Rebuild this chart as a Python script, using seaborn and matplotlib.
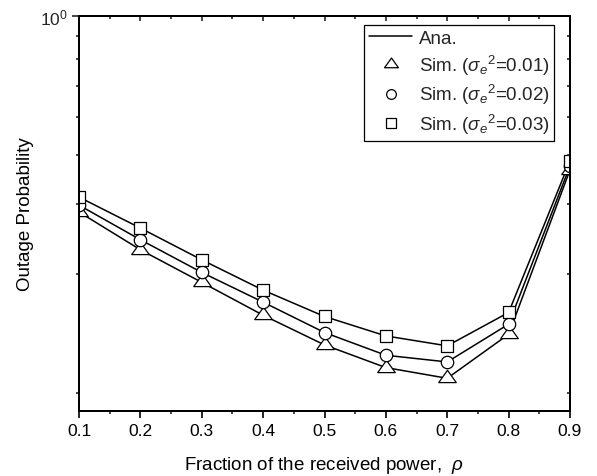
import matplotlib
matplotlib.use("Agg")
import numpy as np
import pandas as pd
import seaborn as sns
import matplotlib.pyplot as plt
from matplotlib.lines import Line2D
from matplotlib.path import Path
from matplotlib.ticker import FixedLocator, NullFormatter, MultipleLocator

# ---------------- data ----------------
rho = [0.1, 0.2, 0.3, 0.4, 0.5, 0.6, 0.7, 0.8, 0.9]
p_var001 = [0.319, 0.256, 0.2117, 0.1748, 0.147, 0.1288, 0.121, 0.1564, 0.4077]
p_var002 = [0.332, 0.2714, 0.2243, 0.1886, 0.158, 0.1384, 0.1331, 0.1659, 0.4173]
p_var003 = [0.348, 0.2905, 0.2414, 0.2023, 0.1735, 0.1549, 0.1462, 0.1776, 0.4297]
series_names = ["0.01", "0.02", "0.03"]
legend_labels = ["Ana.",
                 r"Sim. ($\sigma_e{}^2$=0.01)",
                 r"Sim. ($\sigma_e{}^2$=0.02)",
                 r"Sim. ($\sigma_e{}^2$=0.03)"]
x_ticks = [0.1, 0.2, 0.3, 0.4, 0.5, 0.6, 0.7, 0.8, 0.9]
y_major = [1.0]
y_minor = [1/9, 2/9, 3/9, 4/9, 5/9, 6/9, 7/9, 8/9]

# ---------------- style ----------------
sns.set_theme(style="ticks")
plt.rcParams["font.family"] = ["Liberation Sans", "DejaVu Sans"]
plt.rcParams["mathtext.fontset"] = "custom"
plt.rcParams["mathtext.rm"] = "Liberation Sans"
plt.rcParams["mathtext.it"] = "Liberation Sans:italic"
plt.rcParams["mathtext.bf"] = "Liberation Sans:bold"
plt.rcParams["axes.linewidth"] = 1.4

fig = plt.figure(figsize=(5.97, 4.77), dpi=100)
L, R, T, B = 79, 570, 17, 412
ax = fig.add_axes([L / 597, 1 - B / 477, (R - L) / 597, (B - T) / 477])

df = pd.DataFrame({
    "rho": rho * 3,
    "P": p_var001 + p_var002 + p_var003,
    "series": sum([[s] * len(rho) for s in series_names], []),
})

sns.lineplot(data=df, x="rho", y="P", units="series", estimator=None,
             color="black", linewidth=1.1, ax=ax, legend=False, sort=False)

tri = Path([(-1, -0.467), (1, -0.467), (0, 0.933), (-1, -0.467)],
           [Path.MOVETO, Path.LINETO, Path.LINETO, Path.CLOSEPOLY])
marker_specs = [(p_var001, tri, 160), (p_var002, "o", 80), (p_var003, "s", 70)]
for vals, mk, s in marker_specs:
    sns.scatterplot(x=rho, y=vals, marker=mk, s=s, color="white",
                    edgecolor="black", linewidth=0.9, ax=ax, zorder=3,
                    legend=False)

ax.set_yscale("log")
ax.set_xlim(0.1, 0.9)
ax.set_ylim(0.1, 1.0)
ax.set_xticks(x_ticks)
ax.set_xticklabels([f"{v:.1f}" for v in x_ticks])
ax.xaxis.set_minor_locator(MultipleLocator(0.05))
ax.set_yticks(y_major)
ax.yaxis.set_minor_locator(FixedLocator(y_minor))
ax.yaxis.set_minor_formatter(NullFormatter())

ax.tick_params(axis="x", which="major", direction="out", length=5, width=1.2,
               labelsize=12.5, pad=4, top=False, colors="black")
ax.tick_params(axis="x", which="minor", direction="out", length=2.5, width=1.2,
               top=False)
ax.tick_params(axis="y", which="major", direction="out", length=5, width=1.2,
               labelsize=12.5, pad=3, right=False)
ax.tick_params(axis="y", which="minor", direction="out", length=2.5, width=1.2,
               right=False)

for sp in ax.spines.values():
    sp.set_visible(True)
    sp.set_color("black")
    sp.set_linewidth(1.4)

# top axis: inward ticks
axt = ax.twiny()
axt.set_xlim(ax.get_xlim())
axt.set_xticks(x_ticks)
axt.xaxis.set_minor_locator(MultipleLocator(0.05))
axt.tick_params(axis="x", which="major", direction="in", length=3.5, width=1.2,
                labeltop=False, labelbottom=False, bottom=False, top=True)
axt.tick_params(axis="x", which="minor", direction="in", length=2.2, width=1.2,
                bottom=False, top=True)
# right axis: inward ticks
axr = ax.twinx()
axr.set_yscale("log")
axr.set_ylim(ax.get_ylim())
axr.set_yticks(y_major)
axr.yaxis.set_minor_locator(FixedLocator(y_minor))
axr.yaxis.set_minor_formatter(NullFormatter())
axr.tick_params(axis="y", which="both", direction="in", length=2.5, width=1.2,
                labelright=False, labelleft=False, left=False, right=True)
for a in (axt, axr):
    for sp in a.spines.values():
        sp.set_color("black")
        sp.set_linewidth(1.4)

ax.set_xlabel(r"Fraction of the received power,  $\rho$", fontsize=13.5,
              color="black")
ax.set_ylabel("Outage Probability", fontsize=13.5, color="black")
ax.xaxis.set_label_coords((324 - L) / (R - L), -(466 - B) / (B - T), transform=ax.transAxes)
ax.yaxis.set_label_coords(-(L - 26) / (R - L), 0.5, transform=ax.transAxes)
ax.xaxis.label.set_va("center")
ax.yaxis.label.set_va("center")

handles = [
    Line2D([], [], color="black", linewidth=1.1),
    Line2D([], [], ls="none", marker=tri, markersize=10, mfc="white",
           mec="black", mew=0.9),
    Line2D([], [], ls="none", marker="o", markersize=7, mfc="white",
           mec="black", mew=0.9),
    Line2D([], [], ls="none", marker="s", markersize=6.5, mfc="white",
           mec="black", mew=0.9),
]
leg = ax.legend(handles, legend_labels, loc="upper right",
                bbox_to_anchor=((554 - L) / (R - L), (B - 26) / (B - T)),
                frameon=True, fancybox=False, edgecolor="black", framealpha=1,
                fontsize=13.5, handlelength=2.3, handletextpad=0.35,
                labelspacing=0.3, borderpad=0.25, borderaxespad=0)
leg.get_frame().set_linewidth(0.9)
leg.set_zorder(5)

fig.savefig("out.png", dpi=100)
